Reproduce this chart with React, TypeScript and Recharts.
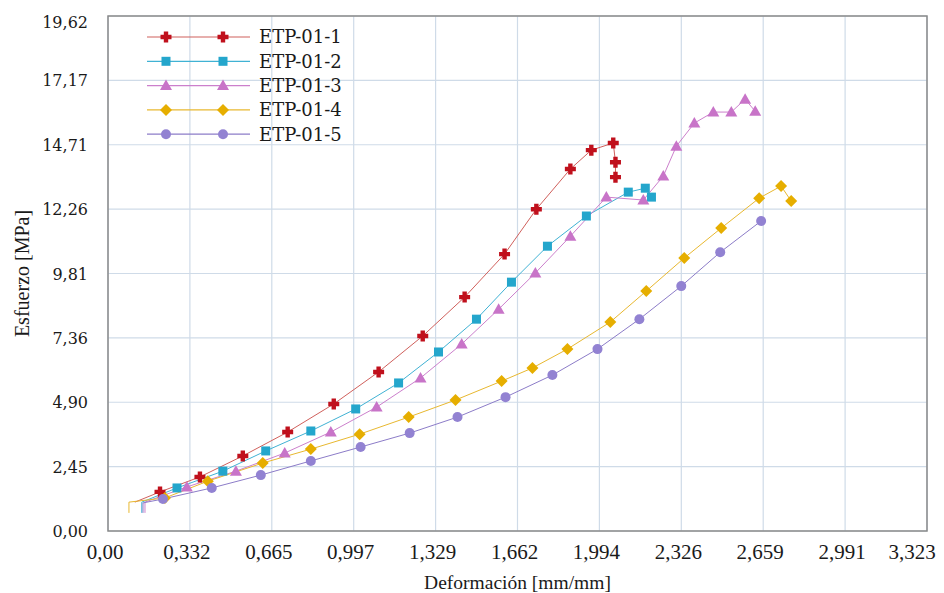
import React from "react";
import { LineChart, Line, XAxis, YAxis, CartesianGrid, ReferenceArea } from "recharts";

// deformación [mm/mm] and esfuerzo [MPa]; the first "lead" points carry no marker
const s1X = [0.109, 0.211, 0.373, 0.547, 0.729, 0.916, 1.098, 1.277, 1.447, 1.609, 1.738, 1.876, 1.961, 2.05, 2.059, 2.059];
const s1Y = [1.1, 1.49, 2.06, 2.86, 3.77, 4.84, 6.06, 7.43, 8.91, 10.55, 12.26, 13.79, 14.51, 14.78, 14.05, 13.48];
const s1Lead = 1;

const s2X = [0.137, 0.137, 0.28, 0.466, 0.64, 0.823, 1.005, 1.179, 1.341, 1.495, 1.637, 1.783, 1.941, 2.111, 2.18, 2.205];
const s2Y = [0.69, 1.1, 1.64, 2.28, 3.05, 3.81, 4.65, 5.64, 6.82, 8.07, 9.48, 10.85, 12.0, 12.91, 13.06, 12.72];
const s2Lead = 2;

const s3X = [0.15, 0.15, 0.32, 0.519, 0.717, 0.904, 1.09, 1.268, 1.435, 1.585, 1.734, 1.876, 2.022, 2.172, 2.253, 2.306, 2.379, 2.456, 2.529, 2.585, 2.626];
const s3Y = [0.69, 1.1, 1.68, 2.28, 2.97, 3.77, 4.72, 5.83, 7.12, 8.45, 9.83, 11.23, 12.72, 12.61, 13.52, 14.66, 15.54, 15.96, 15.96, 16.45, 15.99];
const s3Lead = 2;

const s4X = [0.085, 0.085, 0.231, 0.405, 0.628, 0.823, 1.021, 1.22, 1.41, 1.597, 1.722, 1.864, 2.038, 2.184, 2.338, 2.488, 2.642, 2.731, 2.772];
const s4Y = [0.69, 1.1, 1.26, 1.9, 2.59, 3.12, 3.69, 4.34, 4.99, 5.71, 6.21, 6.93, 7.96, 9.14, 10.4, 11.54, 12.68, 13.14, 12.57];
const s4Lead = 2;

const s5X = [0.142, 0.142, 0.223, 0.421, 0.62, 0.823, 1.025, 1.224, 1.418, 1.613, 1.803, 1.986, 2.156, 2.326, 2.484, 2.65];
const s5Y = [0.69, 1.07, 1.22, 1.64, 2.13, 2.67, 3.2, 3.73, 4.34, 5.1, 5.94, 6.93, 8.07, 9.33, 10.62, 11.81];
const s5Lead = 2;

const names = ["ETP-01-1", "ETP-01-2", "ETP-01-3", "ETP-01-4", "ETP-01-5"];

const xTicks = [0, 0.3323, 0.6646, 0.9969, 1.3292, 1.6615, 1.9938, 2.3261, 2.6584, 2.9907, 3.323];
const xLabels = ["0,00", "0,332", "0,665", "0,997", "1,329", "1,662", "1,994", "2,326", "2,659", "2,991", "3,323"];
const yTicks = [0, 2.4525, 4.905, 7.3575, 9.81, 12.2625, 14.715, 17.1675, 19.62];
const yLabels = ["0,00", "2,45", "4,90", "7,36", "9,81", "12,26", "14,71", "17,17", "19,62"];

type Pt = { x: number; y: number; m: boolean };
const build = (xs: number[], ys: number[], lead: number): Pt[] =>
  xs.map((x, i) => ({ x, y: ys[i], m: i >= lead }));

const series = [
  { data: build(s1X, s1Y, s1Lead), line: "#d0605c", mark: "#c0101c", shape: "cross" },
  { data: build(s2X, s2Y, s2Lead), line: "#40b2d4", mark: "#24a6cc", shape: "square" },
  { data: build(s3X, s3Y, s3Lead), line: "#cc7fcc", mark: "#c874c8", shape: "triangle" },
  { data: build(s4X, s4Y, s4Lead), line: "#e8b830", mark: "#e6ae00", shape: "diamond" },
  { data: build(s5X, s5Y, s5Lead), line: "#8c7cc8", mark: "#9282d2", shape: "circle" },
];

function Marker({ cx, cy, shape, fill }: { cx: number; cy: number; shape: string; fill: string }) {
  if (shape === "cross") {
    const a = 5.5, w = 2.2;
    return (
      <path
        d={`M${cx - w},${cy - a}h${2 * w}v${a - w}h${a - w}v${2 * w}h${-(a - w)}v${a - w}h${-2 * w}v${-(a - w)}h${-(a - w)}v${-2 * w}h${a - w}z`}
        fill={fill}
      />
    );
  }
  if (shape === "square") return <rect x={cx - 4.5} y={cy - 4.5} width={9} height={9} fill={fill} />;
  if (shape === "triangle") return <path d={`M${cx},${cy - 6}L${cx + 6},${cy + 4.5}L${cx - 6},${cy + 4.5}z`} fill={fill} />;
  if (shape === "diamond") return <path d={`M${cx},${cy - 6}L${cx + 6},${cy}L${cx},${cy + 6}L${cx - 6},${cy}z`} fill={fill} />;
  return <circle cx={cx} cy={cy} r={5} fill={fill} />;
}

function XTick({ x, y, payload, index }: any) {
  const last = index === xTicks.length - 1;
  return (
    <text x={x} y={y} dx={last ? -15 : -3} dy={16} textAnchor="middle" fontSize={21} fontFamily="Liberation Serif" fill="#1a1a1a">
      {xLabels[index] ?? String(payload.value)}
    </text>
  );
}

function YTick({ x, y, index }: any) {
  const top = index === yTicks.length - 1;
  return (
    <text x={x} y={y} dy={top ? 12 : 6} textAnchor="end" fontSize={16} fontFamily="DejaVu Serif" fill="#1a1a1a">
      {yLabels[index]}
    </text>
  );
}

function LegendBox() {
  return (
    <svg width={230} height={125} style={{ position: "absolute", left: 139, top: 17 }}>
      {series.map((s, i) => {
        const y = 12 + i * 24.3;
        return (
          <g key={i}>
            <line x1={0} x2={103} y1={y} y2={y} stroke={s.line} strokeWidth={1.2} />
            <Marker cx={19} cy={y} shape={s.shape} fill={s.mark} />
            <Marker cx={76} cy={y} shape={s.shape} fill={s.mark} />
            <text x={112} y={y} dy="0.36em" fontSize={18} fontFamily="DejaVu Serif" fill="#1a1a1a">
              {names[i]}
            </text>
          </g>
        );
      })}
    </svg>
  );
}

export default function App() {
  return (
    <div style={{ width: 936, height: 585, background: "#fff", position: "relative" }}>
      <style>{`.recharts-surface{overflow:visible}`}</style>
      <LineChart width={936} height={585} margin={{ top: 8, right: 17, left: 0, bottom: 0 }}>
        <CartesianGrid stroke="#cfdbe8" strokeWidth={1.2} />
        <XAxis
          type="number"
          dataKey="x"
          domain={[0, 3.323]}
          ticks={xTicks}
          axisLine={false}
          tickLine={false}
          tickSize={0}
          tickMargin={12}
          height={62}
          interval={0}
          tick={<XTick />}
          label={{ value: "Deformación [mm/mm]", position: "insideBottom", offset: 4, fontSize: 19.5, fontFamily: "Liberation Serif", fill: "#1a1a1a" }}
          allowDataOverflow
        />
        <YAxis
          type="number"
          dataKey="y"
          domain={[0, 19.62]}
          ticks={yTicks}
          axisLine={false}
          tickLine={false}
          tickSize={0}
          tickMargin={20}
          width={100}
          interval={0}
          tick={<YTick />}
          label={{ value: "Esfuerzo [MPa]", angle: -90, position: "insideLeft", offset: 14, style: { textAnchor: "middle" }, fontSize: 20, fontFamily: "Liberation Serif", fill: "#1a1a1a" }}
          allowDataOverflow
        />
        <ReferenceArea x1={0} x2={3.323} y1={0} y2={19.62} fill="none" stroke="#8a8a8a" strokeWidth={1.5} ifOverflow="visible" />
        {series.map((s, i) => (
          <Line
            key={i}
            data={s.data}
            dataKey="y"
            name={names[i]}
            type="linear"
            stroke={s.line}
            strokeWidth={1}
            isAnimationActive={false}
            activeDot={false}
            dot={(p: any) =>
              p.payload.m ? <Marker key={p.index} cx={p.cx} cy={p.cy} shape={s.shape} fill={s.mark} /> : <g key={p.index} />
            }
          />
        ))}
      </LineChart>
      <LegendBox />
    </div>
  );
}
